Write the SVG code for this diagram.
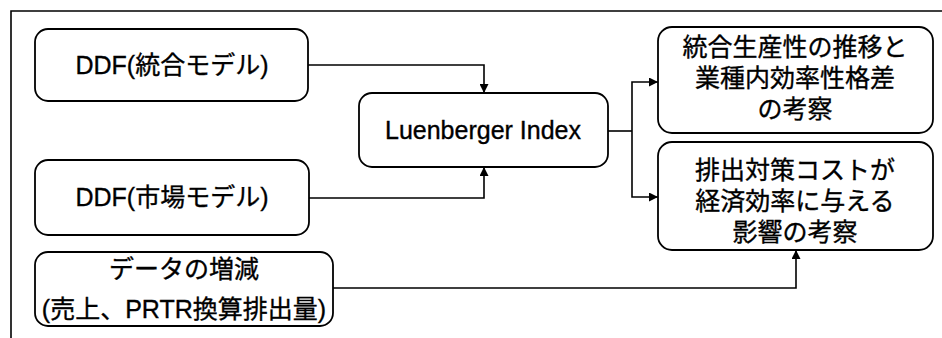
<svg xmlns="http://www.w3.org/2000/svg" width="942" height="338" viewBox="0 0 942 338">
  <defs>
    <marker id="arrow" viewBox="0 0 10 10" refX="10" refY="5" markerWidth="9" markerHeight="9" markerUnits="userSpaceOnUse" orient="auto">
      <path d="M0,0 L10,5 L0,10 Z" fill="#000"/>
    </marker>
    <style>
      .box { fill: #fff; stroke: #000; stroke-width: 1.8; }
      .label { font-family: "Liberation Sans", "Noto Sans CJK JP", sans-serif; font-size: 25px; fill: #000; stroke: #000; stroke-width: 0.35; text-anchor: middle; }
      .wire { fill: none; stroke: #000; stroke-width: 1.6; }
      .frame { fill: none; stroke: #000; stroke-width: 1.6; }
    </style>
  </defs>

  <rect width="942" height="338" fill="#fff"/>

  <!-- outer frame: top and left edges -->
  <path class="frame" d="M11,338 V11 H942"/>

  <g id="ddf-integrated">
    <rect class="box" x="35" y="29" width="273" height="72" rx="13"/>
    <text class="label" x="172" y="74">DDF(統合モデル)</text>
  </g>

  <g id="ddf-market">
    <rect class="box" x="35" y="160" width="274" height="75" rx="13"/>
    <text class="label" x="172" y="206">DDF(市場モデル)</text>
  </g>

  <g id="data-change">
    <rect class="box" x="35" y="252" width="298" height="74" rx="13"/>
    <text class="label" x="184" y="278">データの増減</text>
    <text class="label" x="184" y="318">(売上、PRTR換算排出量)</text>
  </g>

  <g id="luenberger">
    <rect class="box" x="359" y="93" width="249" height="74" rx="13"/>
    <text class="label" x="483" y="139">Luenberger Index</text>
  </g>

  <g id="productivity">
    <rect class="box" x="658" y="27" width="275" height="106" rx="14"/>
    <text class="label" x="795" y="56">統合生産性の推移と</text>
    <text class="label" x="795" y="87">業種内効率性格差</text>
    <text class="label" x="795" y="118">の考察</text>
  </g>

  <g id="emission-cost">
    <rect class="box" x="658" y="142" width="275" height="108" rx="14"/>
    <text class="label" x="795" y="179">排出対策コストが</text>
    <text class="label" x="795" y="210">経済効率に与える</text>
    <text class="label" x="795" y="241">影響の考察</text>
  </g>

  <g id="connectors">
    <path class="wire" d="M308,65 H484 V93" marker-end="url(#arrow)"/>
    <path class="wire" d="M309,198 H484 V167" marker-end="url(#arrow)"/>
    <path class="wire" d="M608,131 H632"/>
    <path class="wire" d="M632,131 V82 H658" marker-end="url(#arrow)"/>
    <path class="wire" d="M632,131 V197 H658" marker-end="url(#arrow)"/>
    <path class="wire" d="M333,288 H796 V250" marker-end="url(#arrow)"/>
  </g>
</svg>
